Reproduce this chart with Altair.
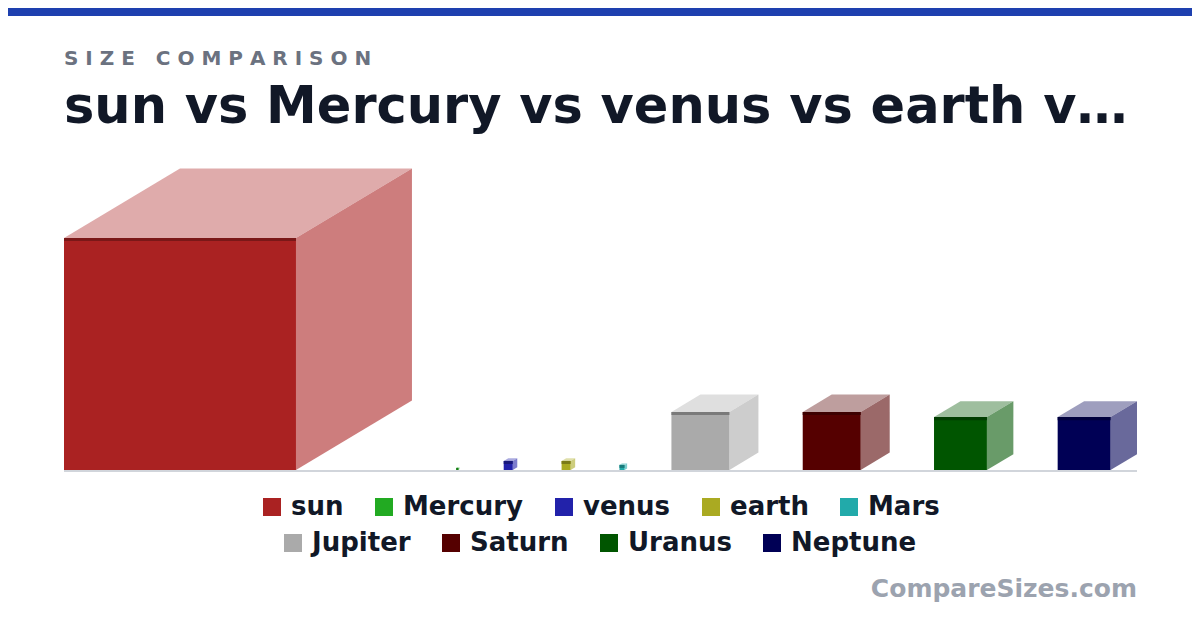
import altair as alt
import pandas as pd

# ---- data ----
planets = ["sun", "Mercury", "venus", "earth", "Mars", "Jupiter", "Saturn", "Uranus", "Neptune"]
sizes = [100.0, 0.9, 3.9, 3.9, 2.2, 25.0, 25.0, 22.8, 22.8]   # relative cube edge (sun = 100)
colors = ["#aa2222", "#22aa22", "#2222aa", "#aaaa22", "#22aaaa",
          "#aaaaaa", "#550000", "#005500", "#000055"]
row1 = planets[:5]
row2 = planets[5:]
kicker = "S I Z E \u00a0 C O M P A R I S O N"
headline = "sun vs Mercury vs venus vs earth vs Mars vs Jupiter vs Saturn vs Uranus vs Neptune"
watermark = "CompareSizes.com"

# ---- styling / layout constants ----
DX, DY = 0.5, 0.3      # oblique depth as fraction of edge
GAP = 19.1             # gap between cubes (units)
STRIP = 1.3            # dark top strip (units)
W, H = 1073, 302
PAD_L, PAD_T, PAD_R, PAD_B = 56, 160, 55, 150
TEXT = "#111827"
FONT = "DejaVu Sans"


def mix(hexc, t, target=255):
    r, g, b = (int(hexc[i:i + 2], 16) for i in (1, 3, 5))
    f = lambda v: int(round(v + (target - v) * t))
    return "#%02x%02x%02x" % (f(r), f(g), f(b))


def darken(hexc, k):
    r, g, b = (int(hexc[i:i + 2], 16) for i in (1, 3, 5))
    return "#%02x%02x%02x" % (int(r * k), int(g * k), int(b * k))


front, strip, top, side = [], [], [], []
x = 0.0
for p, s, c in zip(planets, sizes, colors):
    x0, x1 = x, x + s
    front.append(dict(planet=p, x0=x0, x1=x1, y0=0.0, y1=s))
    strip.append(dict(planet=p, x0=x0, x1=x1, y0=max(s - STRIP, 0.0), y1=s, c=darken(c, 0.72)))
    top.append(dict(planet=p, y=s, xa=x0, xb=x1, c=mix(c, 0.62)))
    top.append(dict(planet=p, y=s * (1 + DY), xa=x0 + DX * s, xb=x1 + DX * s, c=mix(c, 0.62)))
    side.append(dict(planet=p, x=x1, ya=0.0, yb=s, c=mix(c, 0.41)))
    side.append(dict(planet=p, x=x1 + DX * s, ya=DY * s, yb=s * (1 + DY), c=mix(c, 0.41)))
    x = x1 + DX * s + GAP
xtot = x - GAP
ytot = xtot * H / W

front = pd.DataFrame(front)
strip = pd.DataFrame(strip)
top = pd.DataFrame(top)
side = pd.DataFrame(side)

xs = alt.Scale(domain=[0, xtot], nice=False, zero=False)
ys = alt.Scale(domain=[0, ytot], nice=False, zero=False)

top_l = alt.Chart(top).mark_area(orient="horizontal").encode(
    y=alt.Y("y:Q", scale=ys, axis=None),
    x=alt.X("xa:Q", scale=xs, axis=None, stack=None),
    x2="xb:Q",
    fill=alt.Fill("c:N", scale=None),
    detail="planet:N",
)
side_l = alt.Chart(side).mark_area(orient="vertical").encode(
    x=alt.X("x:Q", scale=xs, axis=None),
    y=alt.Y("ya:Q", scale=ys, axis=None, stack=None),
    y2="yb:Q",
    fill=alt.Fill("c:N", scale=None),
    detail="planet:N",
)


def legend(cols, lx, ly):
    return alt.Legend(
        title=None, orient="none", legendX=lx, legendY=ly, direction="horizontal",
        columns=cols, symbolType="square", symbolSize=324, symbolStrokeWidth=0,
        labelFont=FONT, labelFontSize=26, labelFontWeight="bold", labelColor=TEXT,
        labelOffset=6, columnPadding=27, padding=0, symbolOpacity=1,
    )


def front_layer(names, cols, lx, ly):
    return alt.Chart(front).transform_filter(
        alt.FieldOneOfPredicate(field="planet", oneOf=names)
    ).mark_rect().encode(
        x=alt.X("x0:Q", scale=xs, axis=None),
        x2="x1:Q",
        y=alt.Y("y0:Q", scale=ys, axis=None),
        y2="y1:Q",
        fill=alt.Fill("planet:N",
                      scale=alt.Scale(domain=names, range=[colors[planets.index(n)] for n in names]),
                      legend=legend(cols, lx, ly)),
    )


front1 = front_layer(row1, 5, 195, 326)
front2 = front_layer(row2, 4, 216, 362)

strip_l = alt.Chart(strip).mark_rect().encode(
    x=alt.X("x0:Q", scale=xs, axis=None),
    x2="x1:Q",
    y=alt.Y("y0:Q", scale=ys, axis=None),
    y2="y1:Q",
    fill=alt.Fill("c:N", scale=None),
)

base_l = alt.Chart(pd.DataFrame({"y": [0.0]})).mark_rule(
    color="#d1d5db", strokeWidth=2, yOffset=1
).encode(y=alt.Y("y:Q", scale=ys, axis=None), x=alt.value(0), x2=alt.value(W))

mark_l = alt.Chart(pd.DataFrame({"t": [watermark]})).mark_text(
    align="right", baseline="alphabetic", font=FONT, fontSize=25, fontWeight="bold", color="#9ca3af"
).encode(text="t:N", x=alt.value(W), y=alt.value(429))

bar_l = alt.Chart(pd.DataFrame({"a": [1]})).mark_rect(color="#1e40af").encode(
    x=alt.value(-PAD_L), x2=alt.value(W + PAD_R), y=alt.value(-PAD_T), y2=alt.value(-PAD_T + 8)
)

chart = alt.layer(bar_l, top_l, side_l, front1, front2, strip_l, base_l, mark_l).resolve_scale(
    fill="independent"
).resolve_legend(fill="independent").properties(
    width=W, height=H,
    autosize=alt.AutoSizeParams(type="none"),
    padding={"left": PAD_L, "top": PAD_T, "right": PAD_R, "bottom": PAD_B},
    title=alt.TitleParams(
        text=kicker, subtitle=headline, anchor="start", frame="group",
        font=FONT, fontSize=20, fontWeight="bold", color="#6b7280",
        subtitleFont=FONT, subtitleFontSize=51, subtitleFontWeight="bold", subtitleColor=TEXT,
        subtitlePadding=14, offset=30, limit=W, dy=155,
    ),
).configure(background="white", font=FONT).configure_view(stroke=None)

chart.save("out.html", embed_options={"renderer": "svg", "actions": False})
